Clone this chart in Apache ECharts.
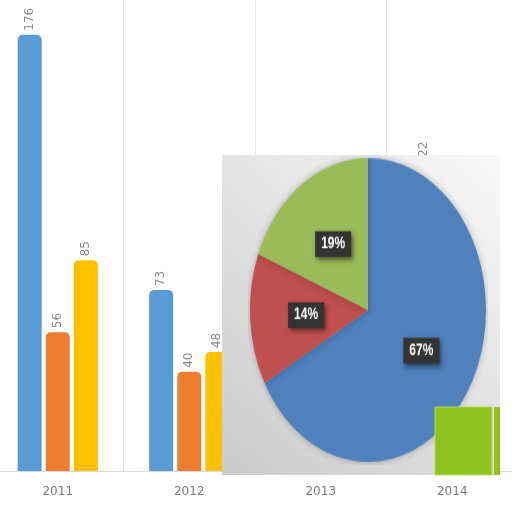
<!DOCTYPE html>
<html>
<head>
<meta charset="utf-8">
<script src="https://cdn.jsdelivr.net/npm/echarts@6/dist/echarts.min.js"></script>
<style>
  html, body { margin: 0; padding: 0; background: #fff; overflow: hidden; width: 512px; height: 512px; }
  #chart { position: absolute; left: -8px; top: 0; width: 526px; height: 512px; }
  #pie { position: absolute; left: 248px; top: 190px; width: 240px; height: 240px;
         transform: scaleY(1.288); transform-origin: 50% 50%; }
  #tile { position: absolute; left: 434px; top: 406px; width: 68px; height: 70px; }
</style>
</head>
<body>
<div id="chart"></div>
<div id="pie"></div>
<div id="tile"></div>
<script>
var years = ['2011', '2012', '2013', '2014'];
var seriesA = [176, 73, 98, 122];
var seriesB = [56, 40, 45, 50];
var seriesC = [85, 48, 60, 70];
var pieNames = ['A', 'B', 'C'];
var pieValues = [67, 14, 19];

var barColors = ['#5b9bd5', '#ed7d31', '#ffc000'];
var pieColors = ['#4f81bd', '#c0504d', '#9bbb59'];

function barSeries(data, color) {
    return {
        type: 'bar',
        data: data,
        barWidth: 24,
        barGap: '17%',
        itemStyle: { color: color, borderRadius: [5, 5, 0, 0] },
        label: {
            show: true,
            position: 'top',
            rotate: 90,
            align: 'left',
            verticalAlign: 'middle',
            distance: 4,
            color: '#8a8a8a',
            fontSize: 12,
            fontFamily: 'DejaVu Sans'
        }
    };
}

// main bar chart (div shifted left so the categories line up)
var chart = echarts.init(document.getElementById('chart'));
chart.setOption({
    animation: false,
    grid: { left: 0, right: 0, top: 0, bottom: 41, containLabel: false },
    xAxis: {
        type: 'category',
        data: years,
        axisLine: { lineStyle: { color: '#d9d9d9' } },
        axisTick: { show: false },
        axisLabel: { color: '#7a7a7a', fontSize: 12, margin: 15, fontFamily: 'DejaVu Sans' },
        splitLine: { show: true, lineStyle: { color: '#e8e8e8' } }
    },
    yAxis: { type: 'value', min: 0, max: 190, show: false, splitLine: { show: false } },
    series: [
        barSeries(seriesA, barColors[0]),
        barSeries(seriesB, barColors[1]),
        barSeries(seriesC, barColors[2])
    ],
    graphic: [{
        type: 'rect', z: 100,
        shape: { x: 230, y: 155, width: 278, height: 320 },
        style: {
            fill: new echarts.graphic.LinearGradient(1, 0, 0, 1, [
                { offset: 0, color: '#f8f8f8' },
                { offset: 1, color: '#cbcbcb' }
            ])
        }
    }]
});

// pie, stretched vertically by the css transform
var pie = echarts.init(document.getElementById('pie'));
pie.setOption({
    animation: false,
    series: [{
        type: 'pie',
        center: ['50%', '50%'],
        radius: 118,
        startAngle: 90,
        clockwise: true,
        data: pieNames.map(function (n, i) {
            return { name: n, value: pieValues[i], itemStyle: { color: pieColors[i] } };
        }),
        itemStyle: { shadowBlur: 6, shadowColor: 'rgba(0,0,0,0.25)' },
        label: {
            show: true,
            position: 'inside',
            formatter: '{c}%',
            color: '#fff',
            fontWeight: 'bold',
            fontSize: 12,
            fontFamily: 'Liberation Sans',
            backgroundColor: '#333',
            padding: [4, 6],
            shadowBlur: 4,
            shadowColor: 'rgba(0,0,0,0.5)',
            shadowOffsetX: 2,
            shadowOffsetY: 2
        },
        labelLine: { show: false },
        emphasis: { disabled: true }
    }]
});

// green tile in the corner, on top of the pie
var tile = echarts.init(document.getElementById('tile'));
tile.setOption({
    animation: false,
    graphic: [
        { type: 'rect', shape: { x: 1, y: 1, width: 57, height: 68 },
          style: { fill: '#8fc31f', stroke: '#b5da5c', lineWidth: 1 } },
        { type: 'rect', shape: { x: 60, y: 1, width: 6, height: 68 },
          style: { fill: '#8fc31f' } }
    ]
});

window.addEventListener('resize', function () {
    chart.resize();
    pie.resize();
    tile.resize();
});
</script>
</body>
</html>
